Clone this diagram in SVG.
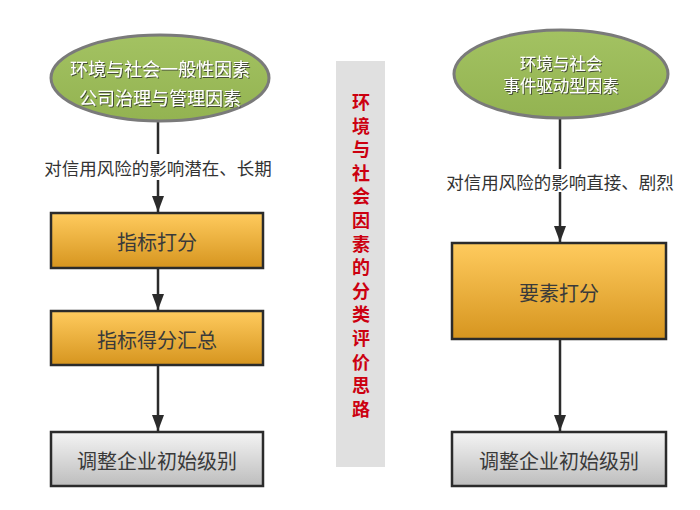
<svg xmlns="http://www.w3.org/2000/svg" width="700" height="510" viewBox="0 0 700 510">
<defs>
<linearGradient id="gOrange" x1="0" y1="0" x2="0" y2="1">
<stop offset="0" stop-color="#FFCB5E"/>
<stop offset="1" stop-color="#D6951F"/>
</linearGradient>
<linearGradient id="gGray" x1="0" y1="0" x2="0" y2="1">
<stop offset="0" stop-color="#F4F4F4"/>
<stop offset="1" stop-color="#BDBDBD"/>
</linearGradient>
<linearGradient id="gGreen" x1="0" y1="0" x2="0" y2="1">
<stop offset="0" stop-color="#A3C262"/>
<stop offset="1" stop-color="#93B351"/>
</linearGradient>
<filter id="sh" x="-10%" y="-10%" width="120%" height="130%">
<feDropShadow dx="1" dy="1" stdDeviation="0.6" flood-color="#333" flood-opacity="0.8"/>
</filter>
<marker id="arr" markerWidth="16" markerHeight="12" refX="16" refY="6" orient="auto" markerUnits="userSpaceOnUse" viewBox="0 0 16 12">
<path d="M0,0 L16,6 L0,12 Z" fill="#2b2b2b"/>
</marker>
</defs>
<style>
.ell{fill:url(#gGreen);stroke:#7a7a7a;stroke-width:3}
.et{font-family:"Noto Sans CJK SC","Noto Sans CJK TC",sans-serif;fill:#fff;text-anchor:middle;dominant-baseline:central;filter:url(#sh)}
.box{stroke:#2b2b2b;stroke-width:2.5}
.or{fill:url(#gOrange)}
.gr{fill:url(#gGray)}
.bt{font-family:"Noto Sans CJK SC",sans-serif;font-size:20px;fill:#3a3a3a;text-anchor:middle;dominant-baseline:central}
.lbl{font-family:"Noto Sans CJK SC",sans-serif;font-size:17.5px;fill:#333;text-anchor:middle;dominant-baseline:central}
.ln{stroke:#2b2b2b;stroke-width:2.5;fill:none}
.vt{font-family:"Noto Sans CJK SC",sans-serif;font-size:18px;font-weight:bold;fill:#CC0010;text-anchor:middle;dominant-baseline:central}
</style>
<rect width="700" height="510" fill="#fff"/>

<g id="connectors">
<line class="ln" x1="158" y1="122" x2="158" y2="154"/>
<line class="ln" x1="158" y1="180" x2="158" y2="212" marker-end="url(#arr)"/>
<line class="ln" x1="158" y1="269" x2="158" y2="310" marker-end="url(#arr)"/>
<line class="ln" x1="158" y1="366" x2="158" y2="431" marker-end="url(#arr)"/>
<line class="ln" x1="560" y1="119" x2="560" y2="169"/>
<line class="ln" x1="560" y1="192" x2="560" y2="242" marker-end="url(#arr)"/>
<line class="ln" x1="560" y1="340" x2="560" y2="431" marker-end="url(#arr)"/>
<text class="lbl" x="158" y="167">对信用风险的影响潜在、长期</text>
<text class="lbl" x="560" y="181">对信用风险的影响直接、剧烈</text>
</g>

<g id="ellipse-left">
<ellipse class="ell" cx="160" cy="78" rx="109" ry="43"/>
<text class="et" x="160" y="68" font-size="18">环境与社会一般性因素</text>
<text class="et" x="160" y="97" font-size="18">公司治理与管理因素</text>
</g>

<g id="ellipse-right">
<ellipse class="ell" cx="561" cy="74" rx="107" ry="44"/>
<text class="et" x="561" y="63" font-size="16.5">环境与社会</text>
<text class="et" x="561" y="85" font-size="16.5">事件驱动型因素</text>
</g>

<g id="box-score">
<rect class="box or" x="51" y="213" width="212" height="55"/>
<text class="bt" x="157" y="241">指标打分</text>
</g>

<g id="box-sum">
<rect class="box or" x="51" y="311" width="212" height="54"/>
<text class="bt" x="157" y="339">指标得分汇总</text>
</g>

<g id="box-adjust-left">
<rect class="box gr" x="51" y="432" width="212" height="54"/>
<text class="bt" x="157" y="460">调整企业初始级别</text>
</g>

<g id="box-element">
<rect class="box or" x="452" y="243" width="214" height="96"/>
<text class="bt" x="559" y="292">要素打分</text>
</g>

<g id="box-adjust-right">
<rect class="box gr" x="452" y="432" width="214" height="54"/>
<text class="bt" x="559" y="460">调整企业初始级别</text>
</g>

<g id="center-bar">
<rect x="336" y="61" width="49" height="406" fill="#E0E0E0"/>
<text class="vt" x="361" y="101">环<tspan x="361" dy="23.6">境</tspan><tspan x="361" dy="23.6">与</tspan><tspan x="361" dy="23.6">社</tspan><tspan x="361" dy="23.6">会</tspan><tspan x="361" dy="23.6">因</tspan><tspan x="361" dy="23.6">素</tspan><tspan x="361" dy="23.6">的</tspan><tspan x="361" dy="23.6">分</tspan><tspan x="361" dy="23.6">类</tspan><tspan x="361" dy="23.6">评</tspan><tspan x="361" dy="23.6">价</tspan><tspan x="361" dy="23.6">思</tspan><tspan x="361" dy="23.6">路</tspan></text>
</g>
</svg>
